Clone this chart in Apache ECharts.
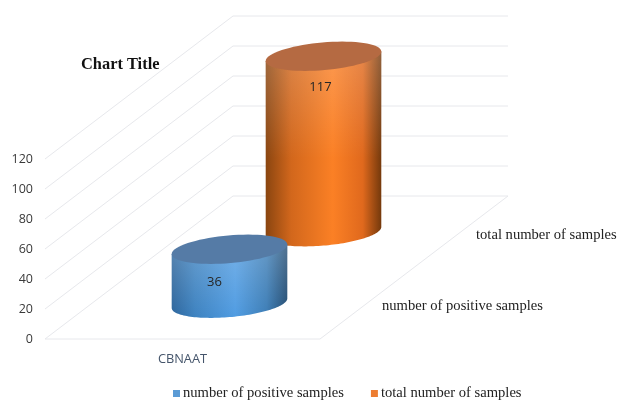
<html>
<head>
    <meta charset='utf-8'/>
    <title>Chart Title</title>
    <style>
        body {
            margin: 0;
            padding: 0;
            background: #fff;
        }

        #chart {
            position: absolute;
            top: 0;
            left: 0;
            width: 617px;
            height: 401px;
        }
    </style>
</head>
<body>
<div id='chart'></div>
<script type="text/javascript" src="https://cdn.jsdelivr.net/npm/echarts@6/dist/echarts.min.js"></script>
<script type="text/javascript">
    var categories = ['CBNAAT'];
    var seriesNames = ['number of positive samples', 'total number of samples'];
    var positiveSamples = [36];
    var totalSamples = [117];
    var yTicks = [0, 20, 40, 60, 80, 100, 120];

    // oblique projection of the depth axis, in pixels from front to back wall
    var DEPTH_X = 188, DEPTH_Y = -143;
    var RADIUS_X = 58, RADIUS_Y = 13.8, TILT = -5 * Math.PI / 180;
    var SERIF = '"Liberation Serif", serif';
    var SANS = '"Open Sans", sans-serif';
    var GRID_COLOR = '#e7e8ec';

    function ellipsePoint(cx, cy, t) {
        return [
            cx + RADIUS_X * Math.cos(t) * Math.cos(TILT) - RADIUS_Y * Math.sin(t) * Math.sin(TILT),
            cy + RADIUS_X * Math.cos(t) * Math.sin(TILT) + RADIUS_Y * Math.sin(t) * Math.cos(TILT)
        ];
    }

    function ellipseArc(cx, cy, from, to) {
        var pts = [];
        for (var i = 0; i <= 72; i++) {
            pts.push(ellipsePoint(cx, cy, from + (to - from) * i / 72));
        }
        return pts;
    }

    function hGradient(stops) {
        return new echarts.graphic.LinearGradient(0, 0, 1, 0, stops);
    }

    function cylinderRenderer(index, look) {
        var depth = (index + 0.5) / seriesNames.length;
        return function (params, api) {
            var base = api.coord([api.value(0), 0]);
            var top = api.coord([api.value(0), api.value(1)]);
            var bx = base[0] + DEPTH_X * depth, by = base[1] + DEPTH_Y * depth;
            var ty = top[1] + DEPTH_Y * depth;
            var t0 = Math.atan2(-RADIUS_Y * Math.sin(TILT), RADIUS_X * Math.cos(TILT));
            var lower = ellipseArc(bx, by, t0, t0 + Math.PI);
            var body = lower.concat([ellipsePoint(bx, ty, t0 + Math.PI), ellipsePoint(bx, ty, t0)]);
            var grid = params.coordSys;
            return {
                type: 'group',
                children: [{
                    type: 'polygon',
                    shape: {points: body},
                    style: {fill: hGradient(look.side)}
                }, {
                    type: 'polygon',
                    shape: {points: body},
                    style: {fill: new echarts.graphic.LinearGradient(0, 0, 0, 1, look.sheen)}
                }, {
                    type: 'polygon',
                    shape: {points: ellipseArc(bx, ty, 0, Math.PI * 2)},
                    style: {fill: look.cap}
                }, {
                    type: 'text',
                    style: {
                        x: bx + look.labelDx,
                        y: ty + look.labelDy,
                        text: String(api.value(1)),
                        align: 'center',
                        verticalAlign: 'middle',
                        font: '13px ' + SANS,
                        fill: '#262626'
                    }
                }, {
                    type: 'text',
                    style: {
                        x: grid.x + grid.width + DEPTH_X * depth + 15,
                        y: base[1] + DEPTH_Y * depth + 3,
                        text: seriesNames[index],
                        align: 'left',
                        verticalAlign: 'middle',
                        font: '14.6px ' + SERIF,
                        fill: '#222'
                    }
                }]
            };
        };
    }

    function wallRenderer(params, api) {
        var grid = params.coordSys;
        var p = api.coord([0, api.value(0)]);
        var left = grid.x, right = grid.x + grid.width;
        var style = {stroke: GRID_COLOR, lineWidth: 1, fill: 'none'};
        var pts = [[left, p[1]], [left + DEPTH_X, p[1] + DEPTH_Y], [right + DEPTH_X, p[1] + DEPTH_Y]];
        var children = [{type: 'polyline', shape: {points: pts}, style: style}];
        if (api.value(0) === 0) {
            children.push({
                type: 'polyline',
                shape: {points: [[left, p[1]], [right, p[1]], [right + DEPTH_X, p[1] + DEPTH_Y]]},
                style: style
            });
        }
        return {type: 'group', children: children};
    }

    var chart = echarts.init(document.getElementById('chart'), null, {renderer: 'canvas'});
    chart.setOption({
        backgroundColor: '#fff',
        animation: false,
        title: {
            text: 'Chart Title',
            left: 81,
            top: 57,
            padding: 0,
            textStyle: {fontFamily: 'Liberation Serif', fontSize: 16.4, fontWeight: 'bold', color: '#111'}
        },
        legend: {
            top: 386,
            left: 173,
            padding: 0,
            itemWidth: 7,
            itemHeight: 7,
            itemGap: 27,
            icon: 'rect',
            data: seriesNames,
            textStyle: {fontFamily: 'Liberation Serif', fontSize: 14.6, color: '#222', padding: [0, 0, 0, -2]}
        },
        grid: {left: 45, top: 159, width: 275, height: 180},
        xAxis: {
            type: 'category',
            data: categories,
            axisLine: {show: false},
            axisTick: {show: false},
            axisLabel: {margin: 14, fontFamily: 'Open Sans', fontSize: 12.8, color: '#44546a'}
        },
        yAxis: {
            type: 'value',
            min: 0,
            max: 120,
            interval: 20,
            axisLine: {show: false},
            axisTick: {show: false},
            splitLine: {show: false},
            axisLabel: {margin: 12, fontFamily: 'Open Sans', fontSize: 12.5, color: '#3a3a3a'}
        },
        series: [{
            type: 'custom',
            name: 'walls',
            z: 1,
            silent: true,
            encode: {y: 0},
            data: yTicks.map(function (v) { return [v]; }),
            renderItem: wallRenderer
        }, {
            type: 'custom',
            name: seriesNames[0],
            z: 3,
            itemStyle: {color: '#5b9bd5'},
            encode: {x: 0, y: 1},
            data: categories.map(function (c, i) { return [i, positiveSamples[i]]; }),
            renderItem: cylinderRenderer(0, {
                cap: '#557ba6',
                labelDx: -15,
                labelDy: 33,
                side: [
                    {offset: 0, color: '#2c659c'},
                    {offset: 0.2, color: '#3d82c0'},
                    {offset: 0.55, color: '#509ce2'},
                    {offset: 0.82, color: '#3c7db6'},
                    {offset: 1, color: '#214b72'}
                ],
                sheen: [
                    {offset: 0, color: 'rgba(255,255,255,0.22)'},
                    {offset: 1, color: 'rgba(255,255,255,0)'}
                ]
            })
        }, {
            type: 'custom',
            name: seriesNames[1],
            z: 2,
            itemStyle: {color: '#ed7d31'},
            encode: {x: 0, y: 1},
            data: categories.map(function (c, i) { return [i, totalSamples[i]]; }),
            renderItem: cylinderRenderer(1, {
                cap: '#b56a42',
                labelDx: -3,
                labelDy: 31,
                side: [
                    {offset: 0, color: '#8a4510'},
                    {offset: 0.22, color: '#d2671c'},
                    {offset: 0.58, color: '#fb8025'},
                    {offset: 0.84, color: '#e0691d'},
                    {offset: 1, color: '#74390c'}
                ],
                sheen: [
                    {offset: 0, color: 'rgba(255,255,255,0.2)'},
                    {offset: 0.55, color: 'rgba(255,255,255,0)'}
                ]
            })
        }]
    });
</script>
</body>
</html>
